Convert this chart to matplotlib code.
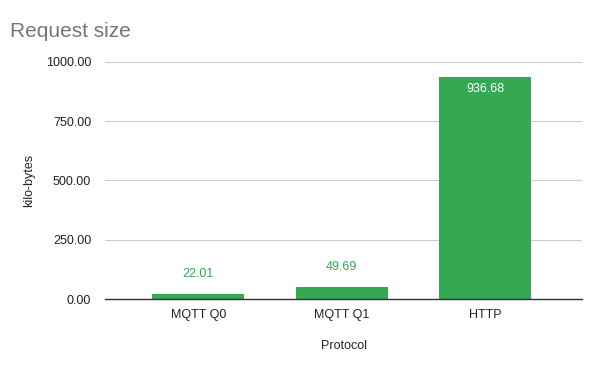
import matplotlib.pyplot as plt

plt.rcParams['font.family'] = ['Liberation Sans', 'DejaVu Sans']

protocols = ['MQTT Q0', 'MQTT Q1', 'HTTP']
sizes = [22.01, 49.69, 936.68]
yticks = [0, 250, 500, 750, 1000]

green = '#34a853'

fig = plt.figure(figsize=(6, 3.71), dpi=100)
ax = fig.add_axes([0.175, 0.194, 0.795, 0.639])

x = range(len(protocols))
bars = ax.bar(x, sizes, width=0.64, color=green, zorder=3)

for xi, v in zip(x, sizes):
    if v > 500:
        ax.annotate('%.2f' % v, (xi, v), xytext=(0, -8.5), textcoords='offset points',
                    ha='center', va='center', color='white', fontsize=9)
    else:
        ax.annotate('%.2f' % v, (xi, v), xytext=(0, 14.5), textcoords='offset points',
                    ha='center', va='center', color=green, fontsize=9)

ax.set_xlim(-0.65, 2.675)
ax.set_ylim(0, 1000)
ax.set_yticks(yticks)
ax.set_yticklabels(['%.2f' % t for t in yticks])
ax.set_xticks(list(x))
ax.set_xticklabels(protocols)
ax.tick_params(axis='both', length=0, labelsize=9, colors='#222222')
ax.tick_params(axis='y', pad=10)
ax.tick_params(axis='x', pad=7)

ax.grid(axis='y', color='#cccccc', linewidth=0.8, zorder=0)
for s in ['top', 'right', 'left']:
    ax.spines[s].set_visible(False)
ax.spines['bottom'].set_color('#333333')
ax.spines['bottom'].set_linewidth(1)
ax.spines['bottom'].set_zorder(4)

ax.set_xlabel('Protocol', fontsize=9, color='#222222', labelpad=14)
ax.set_ylabel('kilo-bytes', fontsize=9, color='#222222', labelpad=8)

fig.text(0.017, 0.915, 'Request size', fontsize=15, color='#757575', va='center')

fig.savefig('out.png', dpi=100)
